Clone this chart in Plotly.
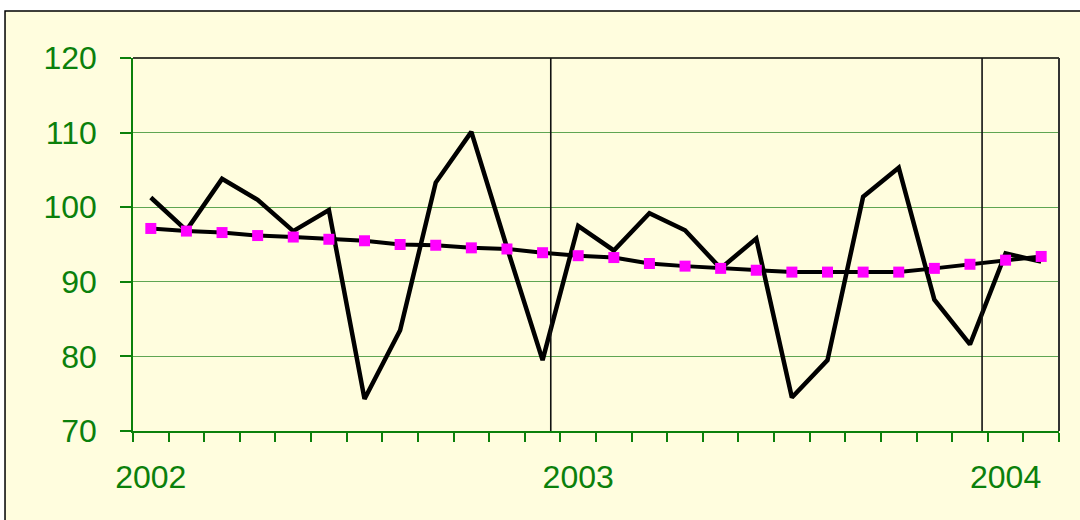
import plotly.graph_objects as go

# Monthly index, Jan 2002 .. Feb 2004
months = ["2002-01", "2002-02", "2002-03", "2002-04", "2002-05", "2002-06",
          "2002-07", "2002-08", "2002-09", "2002-10", "2002-11", "2002-12",
          "2003-01", "2003-02", "2003-03", "2003-04", "2003-05", "2003-06",
          "2003-07", "2003-08", "2003-09", "2003-10", "2003-11", "2003-12",
          "2004-01", "2004-02"]

actual = [101.3, 96.9, 103.8, 101.0, 96.8, 99.6, 74.3, 83.5, 103.3, 110.1,
          94.6, 79.5, 97.5, 94.2, 99.2, 96.9, 91.8, 95.8, 74.5, 79.5,
          101.4, 105.3, 87.6, 81.6, 93.8, 92.7]

trend = [97.15, 96.8, 96.6, 96.2, 96.0, 95.7, 95.5, 95.0, 94.9, 94.55,
         94.4, 93.9, 93.5, 93.25, 92.45, 92.1, 91.8, 91.55, 91.3, 91.3,
         91.3, 91.3, 91.8, 92.35, 92.9, 93.4]

year_labels = ["2002", "2003", "2004"]
year_positions = [0, 12, 24]
y_ticks = [70, 80, 90, 100, 110, 120]
separators = [11.23, 23.34]

x = list(range(len(months)))

GREEN = "#0b800b"
GRID = "#5fa552"
BG = "#FFFDDE"

fig = go.Figure()
fig.add_trace(go.Scatter(x=x, y=actual, mode="lines",
                         line=dict(color="black", width=4.5),
                         hoverinfo="skip", showlegend=False))
fig.add_trace(go.Scatter(x=x, y=trend, mode="lines+markers",
                         line=dict(color="black", width=4),
                         marker=dict(symbol="square", size=11, color="#FF00FF",
                                     line=dict(width=0)),
                         hoverinfo="skip", showlegend=False))

shapes = []
# outer chart box
shapes.append(dict(type="rect", xref="paper", yref="paper",
                   x0=-0.1382, x1=1.1, y0=-0.4, y1=1.126,
                   fillcolor=BG, line=dict(color="black", width=1.5),
                   layer="below"))
# top and right plot border
shapes.append(dict(type="line", xref="paper", yref="paper", x0=0, x1=1, y0=1, y1=1,
                   line=dict(color="black", width=1.5)))
shapes.append(dict(type="line", xref="paper", yref="paper", x0=1, x1=1, y0=0, y1=1,
                   line=dict(color="#333", width=2)))
for s in separators:
    shapes.append(dict(type="line", xref="x", yref="paper", x0=s, x1=s, y0=0, y1=1,
                       line=dict(color="#111", width=1.6)))

fig.update_layout(
    width=1080, height=520,
    margin=dict(l=133, r=21, t=58, b=89),
    paper_bgcolor="white",
    plot_bgcolor=BG,
    shapes=shapes,
    font=dict(family="Liberation Sans, Arial, sans-serif", color=GREEN, size=32),
    xaxis=dict(range=[-0.5, len(months) - 0.5], tickmode="array",
               tickvals=year_positions, ticktext=year_labels,
               ticks="", showgrid=False, zeroline=False,
               showline=True, linecolor=GREEN, linewidth=1.5,
               ticklabelstandoff=17,
               tickfont=dict(size=32, color=GREEN),
               minor=dict(tickmode="linear", tick0=-0.5, dtick=1,
                          ticks="outside", ticklen=9, tickcolor=GREEN,
                          tickwidth=1.5, showgrid=False)),
    yaxis=dict(range=[70, 120], tickmode="array", tickvals=y_ticks,
               ticks="outside", ticklen=11, tickcolor=GREEN, tickwidth=1.5,
               showgrid=True, gridcolor=GRID, gridwidth=1.2,
               zeroline=False, showline=True, linecolor=GREEN, linewidth=1.5,
               ticklabelstandoff=17,
               tickfont=dict(size=32, color=GREEN)),
)

fig.write_html("out.html", config={"displayModeBar": False},
               post_script="document.body.style.margin='0';")
